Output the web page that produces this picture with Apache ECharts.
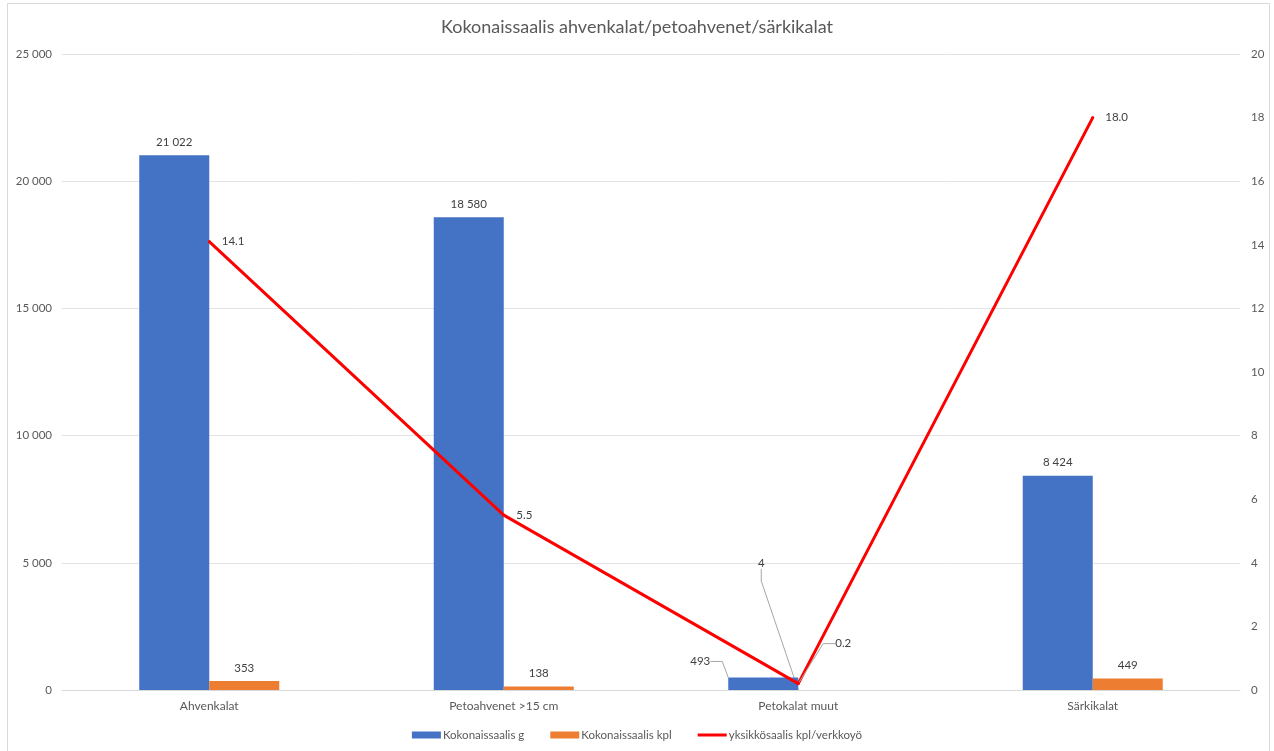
<!DOCTYPE html>
<html>
<head>
<meta charset="utf-8">
<script src="https://cdn.jsdelivr.net/npm/echarts@6/dist/echarts.min.js"></script>
<style>
html,body{margin:0;padding:0;background:#fff;}
#c{width:1274px;height:751px;}
</style>
</head>
<body>
<div id="c"></div>
<script>
const categories = ['Ahvenkalat', 'Petoahvenet >15 cm', 'Petokalat muut', 'Särkikalat'];
const seriesNames = ['Kokonaissaalis g', 'Kokonaissaalis kpl', 'yksikkösaalis kpl/verkkoyö'];
const totalGrams = [21022, 18580, 493, 8424];
const totalCount = [353, 138, 4, 449];
const catchPerNight = [14.1, 5.5, 0.2, 18.0];
const leftTicks = { min: 0, max: 25000, interval: 5000 };
const rightTicks = { min: 0, max: 20, interval: 2 };
const titleText = 'Kokonaissaalis ahvenkalat/petoahvenet/särkikalat';

const FONT = 'Lato, "Open Sans", sans-serif';
const labelColor = '#404040';
const axisColor = '#595959';
const gridColor = '#e3e3e3';

function fmt(v) {
  return String(Math.round(v)).replace(/\B(?=(\d{3})+(?!\d))/g, ' ');
}
const guide = { show: true, length2: 12, smooth: false, lineStyle: { color: '#a6a6a6', width: 1 } };
function withGuide(arr, idx) {
  return arr.map((v, i) => i === idx ? { value: v, labelLine: guide } : v);
}

const chart = echarts.init(document.getElementById('c'), null, { renderer: 'canvas' });
chart.setOption({
  animation: false,
  backgroundColor: '#ffffff',
  textStyle: { fontFamily: FONT },
  graphic: [{
    type: 'rect', silent: true, z: -10,
    shape: { x: 7.5, y: 3.5, width: 1262, height: 780 },
    style: { fill: 'none', stroke: '#d9d9d9', lineWidth: 1 }
  }],
  title: {
    text: titleText, left: 'center', top: 13,
    textStyle: { fontFamily: FONT, fontSize: 18, fontWeight: 'normal', color: axisColor }
  },
  legend: {
    bottom: 5, left: 'center', itemWidth: 29, itemHeight: 7, itemGap: 26,
    textStyle: { fontFamily: FONT, fontSize: 11.5, color: axisColor, padding: [0, 0, 0, -3] },
    data: [
      { name: seriesNames[0], icon: 'rect' },
      { name: seriesNames[1], icon: 'rect' },
      { name: seriesNames[2], icon: 'path://M0 0H29V3H0Z' }
    ]
  },
  grid: { left: 62, right: 34, top: 54, bottom: 61, containLabel: false },
  xAxis: {
    type: 'category', data: categories,
    axisTick: { show: false },
    axisLine: { lineStyle: { color: '#d9d9d9' } },
    axisLabel: { color: axisColor, fontSize: 12, margin: 10, fontFamily: FONT }
  },
  yAxis: [{
    type: 'value', min: leftTicks.min, max: leftTicks.max, interval: leftTicks.interval,
    axisLine: { show: false }, axisTick: { show: false },
    splitLine: { lineStyle: { color: gridColor } },
    axisLabel: { color: axisColor, fontSize: 11.5, margin: 10, formatter: fmt, fontFamily: FONT }
  }, {
    type: 'value', min: rightTicks.min, max: rightTicks.max, interval: rightTicks.interval,
    position: 'right',
    axisLine: { show: false }, axisTick: { show: false }, splitLine: { show: false },
    axisLabel: { color: axisColor, fontSize: 11.5, margin: 11, fontFamily: FONT }
  }],
  series: [{
    name: seriesNames[0], type: 'bar', yAxisIndex: 0,
    barWidth: 70, barGap: '0%',
    itemStyle: { color: '#4472C4' },
    data: withGuide(totalGrams, 2),
    label: { show: true, position: 'top', distance: 7, color: labelColor, fontSize: 11.5, fontFamily: FONT,
      formatter: p => fmt(p.value) },
    labelLayout: function (p) {
      if (p.dataIndex === 2) {
        return { x: p.rect.x - 28, y: p.rect.y - 16, align: 'center', verticalAlign: 'middle' };
      }
    }
  }, {
    name: seriesNames[1], type: 'bar', yAxisIndex: 0,
    barWidth: 70, barGap: '0%',
    itemStyle: { color: '#ED7D31' },
    data: withGuide(totalCount, 2),
    label: { show: true, position: 'top', distance: 7, color: labelColor, fontSize: 11.5, fontFamily: FONT,
      formatter: p => fmt(p.value) },
    labelLayout: function (p) {
      if (p.dataIndex === 2) {
        return { x: p.rect.x - 37, y: p.rect.y + p.rect.height - 127, align: 'center', verticalAlign: 'middle' };
      }
    }
  }, {
    name: seriesNames[2], type: 'line', yAxisIndex: 1, z: 5,
    symbol: 'circle', symbolSize: 3,
    lineStyle: { color: '#FF0000', width: 3 },
    itemStyle: { color: '#FF0000' },
    data: withGuide(catchPerNight, 2),
    label: { show: true, position: 'right', distance: 11, color: labelColor, fontSize: 11.5, fontFamily: FONT,
      offset: [0, 1], formatter: p => Number(p.value).toFixed(1) },
    labelLayout: function (p) {
      if (p.dataIndex === 2) {
        return { x: p.rect.x + p.rect.width / 2 + 45, y: p.rect.y + p.rect.height / 2 - 40, align: 'center', verticalAlign: 'middle' };
      }
    }
  }]
});
</script>
</body>
</html>
